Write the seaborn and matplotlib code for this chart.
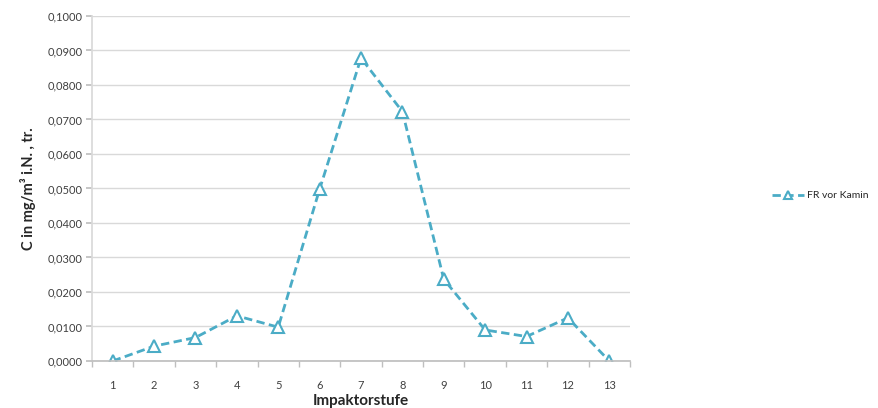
import matplotlib.pyplot as plt
import pandas as pd
import seaborn as sns

# Daten
stufen = [1, 2, 3, 4, 5, 6, 7, 8, 9, 10, 11, 12, 13]
konz_fr_vor_kamin = [0.0000, 0.0043, 0.0068, 0.0131, 0.0098, 0.0498, 0.0878,
                     0.0723, 0.0237, 0.0090, 0.0071, 0.0125, 0.0000]
y_ticks = [0.00, 0.01, 0.02, 0.03, 0.04, 0.05, 0.06, 0.07, 0.08, 0.09, 0.10]

df = pd.DataFrame({"Impaktorstufe": stufen, "C": konz_fr_vor_kamin,
                   "Serie": "FR vor Kamin"})

sns.set_theme(style="white")
plt.rcParams["font.family"] = ["Lato", "DejaVu Sans"]

farbe = "#4BACC6"
fig = plt.figure(figsize=(8.79, 4.08), dpi=100)
ax = fig.add_axes([0.1047, 0.1152, 0.612, 0.8456])

sns.lineplot(data=df, x="Impaktorstufe", y="C", hue="Serie", palette=[farbe],
             marker="^", markersize=8, markerfacecolor="white",
             markeredgecolor=farbe, markeredgewidth=1.5, linewidth=2,
             linestyle="--", dashes=False, ax=ax)
for line in ax.lines:
    line.set_linestyle((0, (3, 1.6)))

ax.set_xlim(0.5, 13.5)
ax.set_ylim(0, 0.1)
ax.set_yticks(y_ticks)
ax.set_yticklabels([f"{v:.4f}".replace(".", ",") for v in y_ticks])
ax.set_xticks(stufen)
ax.set_xticklabels([str(s) for s in stufen])
ax.set_xticks([s + 0.5 for s in [0] + stufen], minor=True)

ax.grid(axis="y", color="#D9D9D9", linewidth=1)
ax.set_axisbelow(True)
for side in ["top", "right"]:
    ax.spines[side].set_visible(False)
ax.spines["left"].set_color("#D9D9D9")
ax.spines["bottom"].set_color("#BFBFBF")
ax.tick_params(axis="y", which="major", left=True, length=4, color="#BFBFBF",
               labelsize=8, labelcolor="#404040", pad=3)
ax.tick_params(axis="x", which="major", bottom=False, labelsize=8,
               labelcolor="#404040", pad=8)
ax.tick_params(axis="x", which="minor", bottom=True, length=4, color="#BFBFBF")

ax.set_xlabel("Impaktorstufe", fontsize=11, fontweight="bold", labelpad=2)
ax.set_ylabel("C in mg/m³ i.N. , tr.", fontsize=10.5, fontweight="bold",
              labelpad=8)

handles, labels = ax.get_legend_handles_labels()
ax.legend(handles, labels, loc="center left", bbox_to_anchor=(0.868, 0.52),
          bbox_transform=fig.transFigure, frameon=False, fontsize=7.5,
          handlelength=3, handletextpad=0.3, markerscale=0.7)

fig.savefig("out.png", dpi=100)
